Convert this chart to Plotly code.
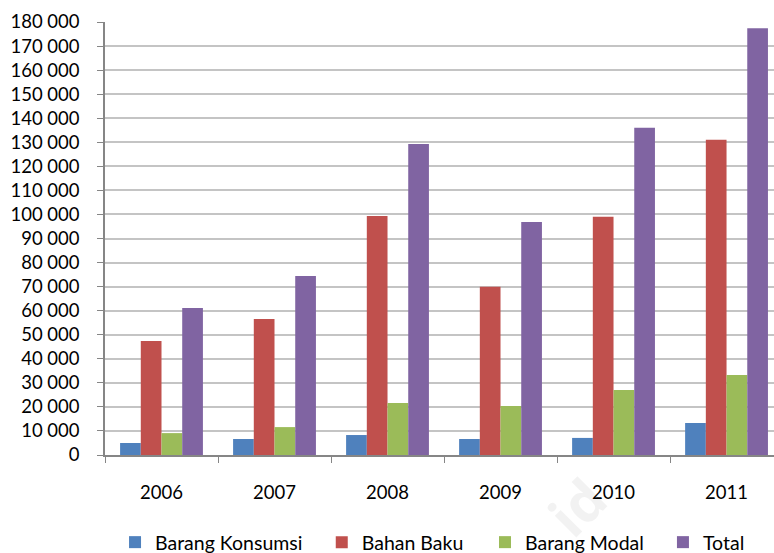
import plotly.graph_objects as go

# Import values by category of goods, per year
years = ["2006", "2007", "2008", "2009", "2010", "2011"]
barang_konsumsi = [5000, 6650, 8300, 6650, 7100, 13300]
bahan_baku = [47400, 56500, 99400, 69900, 99000, 131000]
barang_modal = [9100, 11600, 21600, 20400, 27000, 33300]
total = [61100, 74400, 129300, 96900, 136000, 177400]

series_names = ["Barang Konsumsi", "Bahan Baku", "Barang Modal", "Total"]
series_values = [barang_konsumsi, bahan_baku, barang_modal, total]
series_colors = ["#4F81BD", "#C0504D", "#9BBB59", "#8064A2"]
legend_ids = ["legend", "legend2", "legend3", "legend4"]
legend_x = [0.015, 0.324, 0.568, 0.834]

FONT = "Lato"
FS = 18.5
LEG_FS = 19.5

fig = go.Figure()
for name, vals, color, lid in zip(series_names, series_values, series_colors, legend_ids):
    fig.add_trace(go.Bar(
        x=years, y=vals, name=name,
        marker=dict(color=color, line=dict(width=0)),
        legend=lid, showlegend=True,
    ))

legend_common = dict(
    orientation="h", yanchor="middle", y=-0.202, xanchor="left",
    font=dict(family=FONT, size=LEG_FS, color="#000000"),
    bgcolor="rgba(0,0,0,0)", borderwidth=0,
)

fig.update_layout(
    width=774, height=553,
    margin=dict(l=105, r=0, t=22, b=98, autoexpand=False),
    showlegend=True,
    paper_bgcolor="white", plot_bgcolor="white",
    barmode="group", bargap=0.267, bargroupgap=0,
    separators=", ",
    font=dict(family=FONT, size=FS, color="#000000"),
    legend=dict(legend_common, x=legend_x[0]),
    legend2=dict(legend_common, x=legend_x[1]),
    legend3=dict(legend_common, x=legend_x[2]),
    legend4=dict(legend_common, x=legend_x[3]),
    xaxis=dict(
        type="category", range=[-0.5, 5.42],
        showline=True, linecolor="#868686", linewidth=1.5,
        ticks="outside", tickson="boundaries", ticklen=6, tickcolor="#868686",
        showgrid=False, ticklabelstandoff=20,
        tickfont=dict(family=FONT, size=FS, color="#000000"),
    ),
    yaxis=dict(
        range=[0, 180000], dtick=10000, tickformat=",d",
        showline=True, linecolor="#868686", linewidth=1.5,
        ticks="outside", ticklen=6, tickcolor="#868686",
        showgrid=True, gridcolor="#C4C4C4", gridwidth=1.5,
        zeroline=False, ticklabelstandoff=14,
        tickfont=dict(family=FONT, size=FS, color="#000000"),
    ),
    annotations=[dict(
        text="<b>id</b>", xref="paper", yref="paper",
        x=0.705, y=-0.118, xanchor="center", yanchor="middle",
        textangle=-45, showarrow=False,
        font=dict(family="Open Sans", size=56, color="rgba(0,0,0,0.05)"),
    )],
)

fig.write_html("out.html")
